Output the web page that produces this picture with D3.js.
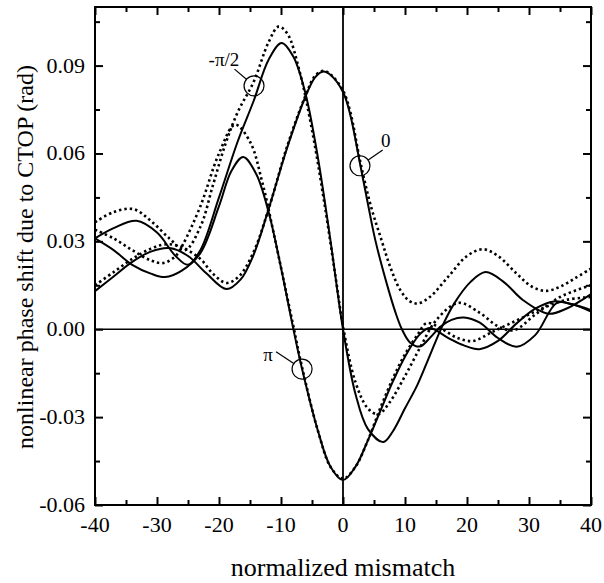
<!DOCTYPE html>
<html><head><meta charset="utf-8">
<script src="https://cdn.jsdelivr.net/npm/d3@7"></script>
<style>
body{margin:0;background:#fff;}
svg{display:block;}
</style></head>
<body><svg id="c" width="604" height="583"></svg>
<script>
// ---- data (x = normalized mismatch, y = nonlinear phase shift, rad) ----
const solid0 = [[-40,0.013],[-37,0.018],[-34,0.023],[-31,0.0265],[-28,0.0277],[-25,0.025],[-22,0.019],[-18.8,0.0137],[-16.5,0.017],[-14.5,0.025],[-12,0.041],[-9,0.062],[-6,0.0797],[-4.5,0.086],[-3.2,0.088],[-2,0.0868],[0,0.081],[1.2,0.073],[2.7,0.057],[4,0.043],[5.2,0.0305],[7,0.016],[8.5,0.0055],[9.5,0],[10.8,-0.0045],[12.4,-0.0059],[14,-0.003],[15.8,0.001],[17.5,0.0032],[19.5,0.004],[22,0.0023],[25,-0.003],[28,-0.006],[31,-0.002],[34.5,0.009],[37,0.0085],[40,0.006]];
const dotted0 = [[-40,0.015],[-37,0.0195],[-34,0.024],[-31,0.0275],[-28.5,0.029],[-26,0.028],[-23,0.024],[-21,0.019],[-18.8,0.0158],[-16.8,0.018],[-14.5,0.026],[-12,0.041],[-9,0.0625],[-6,0.08],[-4.5,0.0865],[-3.2,0.0882],[-2,0.087],[0,0.0815],[1.2,0.074],[2.7,0.058],[4.5,0.042],[6.2,0.0305],[7.6,0.0214],[9.2,0.0135],[10.8,0.0095],[12.1,0.0088],[14,0.011],[17,0.018],[20,0.025],[22.6,0.0273],[25,0.025],[28,0.019],[30.5,0.0145],[32.8,0.0131],[35,0.0145],[37.5,0.0175],[40,0.0207]];
const solidHalf = [[-40,0.031],[-37,0.0345],[-33.3,0.037],[-30,0.033],[-27,0.025],[-25,0.022],[-23,0.027],[-20,0.045],[-17,0.064],[-14.4,0.078],[-12,0.092],[-9.9,0.0977],[-8,0.093],[-6,0.08],[-4,0.058],[-2,0.03],[0,0.0],[2,-0.022],[4,-0.034],[6.5,-0.0385],[8,-0.035],[10,-0.027],[12,-0.019],[14,-0.009],[16,0.001],[18,0.009],[20.5,0.016],[23,0.0195],[26,0.016],[29,0.01],[33.1,0.0053],[36,0.007],[40,0.012]];
const dottedHalf = [[-40,0.0365],[-37,0.04],[-33.8,0.041],[-31,0.037],[-28,0.031],[-25.5,0.027],[-23,0.035],[-21,0.049],[-19,0.063],[-17,0.074],[-14.4,0.0845],[-12,0.098],[-10.4,0.1033],[-9,0.101],[-7,0.088],[-5,0.068],[-3,0.043],[-1,0.015],[0,0.001],[2,-0.018],[4,-0.027],[5.7,-0.029],[7.5,-0.025],[10,-0.016],[12.5,-0.006],[15,0.003],[18.6,0.009],[22,0.0057],[25,0.001],[27.6,-0.0003],[31,0.005],[35,0.011],[40,0.015]];
const solidPi = [[-40,0.031],[-37,0.027],[-34,0.022],[-31,0.019],[-28.7,0.0178],[-26,0.02],[-23,0.026],[-20,0.042],[-18,0.054],[-16.1,0.0588],[-14,0.053],[-12,0.04],[-10,0.021],[-8,0.0],[-6.6,-0.0136],[-4,-0.035],[-2,-0.047],[0,-0.0515],[2,-0.047],[4,-0.038],[6,-0.028],[8,-0.018],[10.5,-0.0075],[12.5,-0.0015],[14,0.0004],[17,-0.003],[19.5,-0.0055],[22,-0.0068],[25,-0.004],[28,0.002],[31,0.007],[34,0.0095],[37,0.0085],[40,0.0065]];
const dottedPi = [[-40,0.034],[-37,0.031],[-34,0.027],[-31,0.0235],[-29,0.0226],[-27,0.025],[-25.8,0.029],[-23,0.042],[-20,0.06],[-17.4,0.0698],[-15,0.064],[-13,0.05],[-11,0.031],[-9,0.011],[-8,0.001],[-6.6,-0.013],[-4,-0.035],[-2,-0.047],[0,-0.051],[2,-0.047],[4,-0.038],[6,-0.027],[8,-0.017],[10,-0.0085],[12,-0.002],[13.5,0.0021],[16,0.0],[18.5,-0.003],[21,-0.004],[24,-0.001],[28,0.003],[32,0.007],[36,0.01],[40,0.011]];

const xTicksMajor = [-40,-30,-20,-10,0,10,20,30,40];
const xTicksMinor = [-35,-25,-15,-5,5,15,25,35];
const yTicksMajor = [-0.06,-0.03,0.00,0.03,0.06,0.09];
const yTicksMinor = [-0.045,-0.015,0.015,0.045,0.075,0.105];
const xTickLabels = ["-40","-30","-20","-10","0","10","20","30","40"];
const yTickLabels = ["-0.06","-0.03","0.00","0.03","0.06","0.09"];
const xTitle = "normalized mismatch";
const yTitle = "nonlinear phase shift due to CTOP (rad)";
const annoText = ["-π/2","0","π"];
const annoCircle = [[-14.35,0.0831],[2.74,0.0558],[-6.6,-0.0136]];
const annoLabel = [[-19.2,0.0900],[6.9,0.0622],[-12.1,-0.0107]];
const annoLeaderStart = [[-17.5,0.0888],[6.4,0.0612],[-10.8,-0.0077]];

// ---- drawing ----
const FONT = "'Liberation Serif','DejaVu Serif','Times New Roman',serif";
const svg = d3.select("#c");
const L=95,R=591,T=7,B=505;
const x = d3.scaleLinear().domain([-40,40]).range([L,R]);
const y = d3.scaleLinear().domain([-0.06,0.11]).range([B,T]);

svg.append("rect").attr("width",604).attr("height",583).attr("fill","#fff");

const line = d3.line().x(d=>x(d[0])).y(d=>y(d[1])).curve(d3.curveCatmullRom.alpha(0.5));
const g = svg.append("g");
[solid0,solidHalf,solidPi].forEach(s=>{
  g.append("path").attr("d",line(s)).attr("fill","none").attr("stroke","#000").attr("stroke-width",2);
});
[dotted0,dottedHalf,dottedPi].forEach(s=>{
  g.append("path").attr("d",line(s)).attr("fill","none").attr("stroke","#000").attr("stroke-width",2.6).attr("stroke-dasharray","2.4,3");
});

// zero lines
svg.append("line").attr("x1",L).attr("x2",R).attr("y1",y(0)).attr("y2",y(0)).attr("stroke","#000").attr("stroke-width",1.6);
svg.append("line").attr("x1",x(0)).attr("x2",x(0)).attr("y1",T).attr("y2",B).attr("stroke","#000").attr("stroke-width",1.8);

// axes with inward ticks
function ax(gen, tr, vals, size){
  const a = svg.append("g").attr("transform",tr).call(gen.tickValues(vals).tickSize(size).tickFormat(""));
  a.select(".domain").remove();
  a.selectAll("line").attr("stroke","#000").attr("stroke-width",2);
}
ax(d3.axisTop(x),`translate(0,${B})`,xTicksMajor,8);
ax(d3.axisTop(x),`translate(0,${B})`,xTicksMinor,5);
ax(d3.axisBottom(x),`translate(0,${T})`,xTicksMajor,8);
ax(d3.axisBottom(x),`translate(0,${T})`,xTicksMinor,5);
ax(d3.axisRight(y),`translate(${L},0)`,yTicksMajor,8);
ax(d3.axisRight(y),`translate(${L},0)`,yTicksMinor,5);
ax(d3.axisLeft(y),`translate(${R},0)`,yTicksMajor,8);
ax(d3.axisLeft(y),`translate(${R},0)`,yTicksMinor,5);

svg.append("rect").attr("x",L).attr("y",T).attr("width",R-L).attr("height",B-T)
  .attr("fill","none").attr("stroke","#000").attr("stroke-width",2);

// tick labels
svg.append("g").selectAll("text").data(xTicksMajor).join("text")
  .attr("font-family",FONT)
  .attr("x",d=>x(d)).attr("y",B+27).attr("text-anchor","middle").attr("font-size",22)
  .text((d,i)=>xTickLabels[i]);
svg.append("g").selectAll("text").data(yTicksMajor).join("text")
  .attr("font-family",FONT)
  .attr("x",L-10).attr("y",d=>y(d)+7).attr("text-anchor","end").attr("font-size",22)
  .text((d,i)=>yTickLabels[i]);

// titles
svg.append("text").attr("font-family",FONT).attr("x",343).attr("y",576).attr("text-anchor","middle").attr("font-size",26).text(xTitle);
svg.append("text").attr("font-family",FONT).attr("transform","translate(33,257) rotate(-90)").attr("text-anchor","middle").attr("font-size",24).text(yTitle);

// annotations
const r=10;
annoText.forEach((t,i)=>{
  const cx=x(annoCircle[i][0]), cy=y(annoCircle[i][1]);
  svg.append("circle").attr("cx",cx).attr("cy",cy).attr("r",r).attr("fill","none").attr("stroke","#000").attr("stroke-width",1.2);
  const sx=x(annoLeaderStart[i][0]), sy=y(annoLeaderStart[i][1]);
  const dx=cx-sx, dy=cy-sy, dl=Math.hypot(dx,dy);
  svg.append("line").attr("x1",sx).attr("y1",sy).attr("x2",cx-dx/dl*r).attr("y2",cy-dy/dl*r).attr("stroke","#000").attr("stroke-width",1.2);
  svg.append("text").attr("font-family",FONT).attr("x",x(annoLabel[i][0])).attr("y",y(annoLabel[i][1])).attr("text-anchor","middle").attr("font-size",19).text(t);
});
</script></body></html>
